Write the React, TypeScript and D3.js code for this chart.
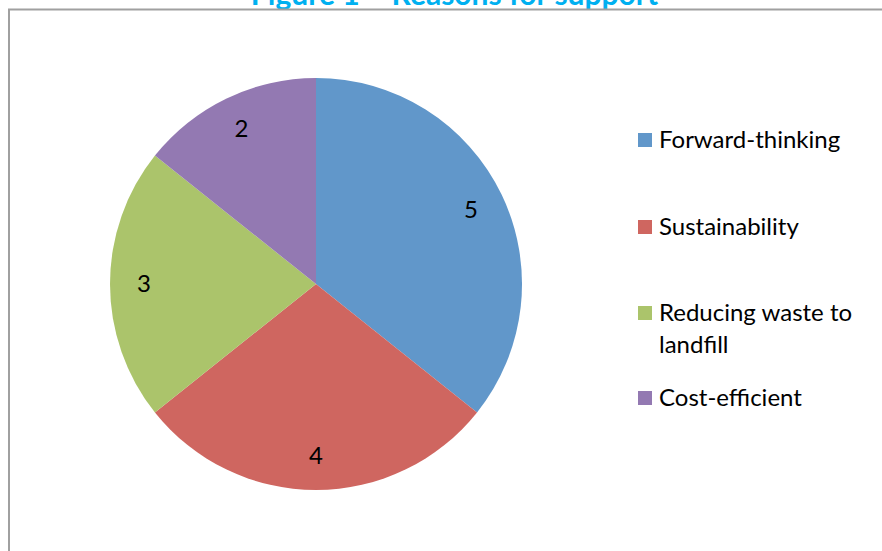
import React, { useEffect, useRef } from "react";
import * as d3 from "d3";

const categories = ["Forward-thinking", "Sustainability", "Reducing waste to landfill", "Cost-efficient"];
const legendLines = [["Forward-thinking"], ["Sustainability"], ["Reducing waste to", "landfill"], ["Cost-efficient"]];
const values = [5, 4, 3, 2];
const colors = ["#6197CA", "#CF6660", "#ABC46B", "#9379B2"];
const title = "Figure 1 \u2013 Reasons for support";

export default function App() {
  const ref = useRef<SVGSVGElement | null>(null);
  useEffect(() => {
    const svg = d3.select(ref.current);
    svg.selectAll("*").remove();
    const W = 882, H = 551;
    const font = "Lato, 'Open Sans', sans-serif";

    // title (clipped at top)
    svg.append("text").attr("x", 454.5).attr("y", 5).attr("text-anchor", "middle")
      .attr("font-family", font).attr("font-weight", "bold").attr("font-size", 30)
      .attr("fill", "#00B0F0").text(title);

    // border
    svg.append("rect").attr("x", 9).attr("y", 9.5).attr("width", W + 20).attr("height", H + 20)
      .attr("fill", "white").attr("stroke", "#A0A0A0").attr("stroke-width", 2);

    const cx = 316, cy = 284, R = 206;
    const pie = d3.pie<number>().sort(null).value(d => d);
    const arcs = pie(values);
    const arc = d3.arc<d3.PieArcDatum<number>>().innerRadius(0).outerRadius(R);
    const labelArc = d3.arc<d3.PieArcDatum<number>>().innerRadius(172).outerRadius(172);
    const g = svg.append("g").attr("transform", `translate(${cx},${cy})`);
    g.selectAll("path").data(arcs).enter().append("path")
      .attr("d", arc as any).attr("fill", (_, i) => colors[i]);
    g.selectAll("text").data(arcs).enter().append("text")
      .attr("transform", d => { const [x, y] = labelArc.centroid(d); return `translate(${x},${y})`; })
      .attr("text-anchor", "middle").attr("dy", "0.35em")
      .attr("font-family", font).attr("font-size", 24).attr("fill", "#000")
      .text(d => String(d.data));

    // legend
    const rowY = [140, 227, 313, 398];
    const lg = svg.append("g");
    categories.forEach((c, i) => {
      lg.append("rect").attr("x", 638).attr("y", rowY[i] - 7).attr("width", 14).attr("height", 14).attr("fill", colors[i]);
      const t = lg.append("text").attr("x", 659).attr("y", rowY[i])
        .attr("font-family", font).attr("font-size", 24).attr("fill", "#000");
      legendLines[i].forEach((line, j) => {
        t.append("tspan").attr("x", 659).attr("dy", j === 0 ? "0.35em" : 32).text(line);
      });
    });
  }, []);
  return (
    <svg ref={ref} width={882} height={551} style={{ position: "absolute", left: 0, top: 0, display: "block" }} />
  );
}
